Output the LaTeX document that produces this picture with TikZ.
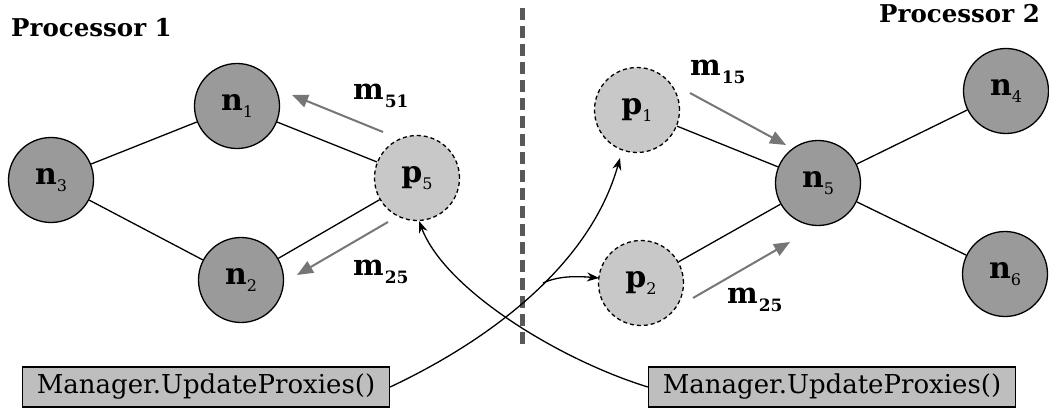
\documentclass[tikz,border=0pt]{standalone}
\usepackage{fontspec}
\setmainfont{DejaVu Serif}
\usetikzlibrary{arrows.meta}

\definecolor{nodegray}{HTML}{9A9A9A}
\definecolor{proxygray}{HTML}{C8C8C8}
\definecolor{boxgray}{HTML}{BEBEBE}
\definecolor{msggray}{HTML}{767676}
\definecolor{divgray}{HTML}{595959}

% vertex label: bold letter with a small lighter index
\newcommand\vertexlabel[2]{{\fontsize{30}{30}\selectfont\bfseries #1}\raisebox{-7pt}{\fontsize{16}{16}\selectfont #2}}
% message label
\newcommand\msglabel[1]{{\fontsize{29}{29}\selectfont\bfseries m}\hspace{1pt}\raisebox{-8pt}{\fontsize{17}{17}\selectfont\bfseries #1}}

\begin{document}
\begin{tikzpicture}[x=1pt,y=-1pt,
  realnode/.style={circle, draw=black, line width=1.3pt, fill=nodegray,
    minimum size=85pt, inner sep=0pt},
  proxynode/.style={circle, draw=black, line width=1.3pt, dash pattern=on 4pt off 3pt,
    fill=proxygray, minimum size=85pt, inner sep=0pt},
  link/.style={line width=1.3pt},
  msgarrow/.style={line width=2pt, draw=msggray,
    -{Triangle[length=16pt,width=13pt,fill=msggray]}},
  callarrow/.style={line width=1.3pt, -{Stealth[length=12pt,width=9pt]}},
  managerbox/.style={draw=black, line width=1.3pt, fill=boxgray,
    minimum width=367pt, minimum height=40pt, inner sep=0pt,
    font=\fontsize{26}{26}\selectfont},
  heading/.style={font=\fontsize{24.5}{24.5}\selectfont\bfseries, inner sep=0pt}
]
\useasboundingbox (0,0) rectangle (1049,414);

% partition between the two processors
\coordinate (divtop) at (522,8);
\coordinate (divbot) at (522,345);
\draw[line width=5pt, draw=divgray, dash pattern=on 12pt off 6pt] (divtop) -- (divbot);

% headings
\node[heading, anchor=base west] (proc1) at (11,37) {Processor 1};
\node[heading, anchor=base east] (proc2) at (1040,23) {Processor 2};

% processor 1
\node[realnode]  (n3) at (51,180)  {\vertexlabel{n}{3}};
\node[realnode]  (n1) at (237,106) {\vertexlabel{n}{1}};
\node[realnode]  (n2) at (241,280) {\vertexlabel{n}{2}};
\node[proxynode] (p5) at (417,178) {\vertexlabel{p}{5}};

% processor 2
\node[proxynode] (p1) at (637,110) {\vertexlabel{p}{1}};
\node[proxynode] (p2) at (641,283) {\vertexlabel{p}{2}};
\node[realnode]  (n5) at (818,183) {\vertexlabel{n}{5}};
\node[realnode]  (n4) at (1006,91) {\vertexlabel{n}{4}};
\node[realnode]  (n6) at (1005,274) {\vertexlabel{n}{6}};

% graph edges
\draw[link] (n3) -- (n1);
\draw[link] (n3) -- (n2);
\draw[link] (n1) -- (p5);
\draw[link] (n2) -- (p5);
\draw[link] (p1) -- (n5);
\draw[link] (p2) -- (n5);
\draw[link] (n5) -- (n4);
\draw[link] (n5) -- (n6);

% messages
\coordinate (m51s) at (383,132);
\coordinate (m51e) at (292,95);
\coordinate (m25s) at (388,222);
\coordinate (m25e) at (297,275);
\coordinate (m15s) at (690,93);
\coordinate (m15e) at (786,145);
\coordinate (m25rs) at (693,298);
\coordinate (m25re) at (790,242);
\draw[msgarrow] (m51s) -- (m51e);
\draw[msgarrow] (m25s) -- (m25e);
\draw[msgarrow] (m15s) -- (m15e);
\draw[msgarrow] (m25rs) -- (m25re);

\node[anchor=base west, inner sep=0pt] (l51)  at (353,100) {\msglabel{51}};
\node[anchor=base west, inner sep=0pt] (l25)  at (353,275) {\msglabel{25}};
\node[anchor=base west, inner sep=0pt] (l15)  at (690,76)  {\msglabel{15}};
\node[anchor=base west, inner sep=0pt] (l25r) at (727,303) {\msglabel{25}};

% proxy managers
\node[managerbox] (mgr1) at (206,387) {Manager.UpdateProxies()};
\node[managerbox] (mgr2) at (832,387) {Manager.UpdateProxies()};

% update calls
\coordinate (split) at (543,283);
\coordinate (p1tip) at (620,158);
\coordinate (p2tip) at (599,278);
\coordinate (p5tip) at (419,221);
\draw[callarrow] (mgr1.east) .. controls (490,340) and (590,265) .. (p1tip);
\draw[callarrow] (split) .. controls (558,276) and (576,276) .. (p2tip);
\draw[callarrow] (mgr2.west) .. controls (560,360) and (445,290) .. (p5tip);
\end{tikzpicture}
\end{document}
